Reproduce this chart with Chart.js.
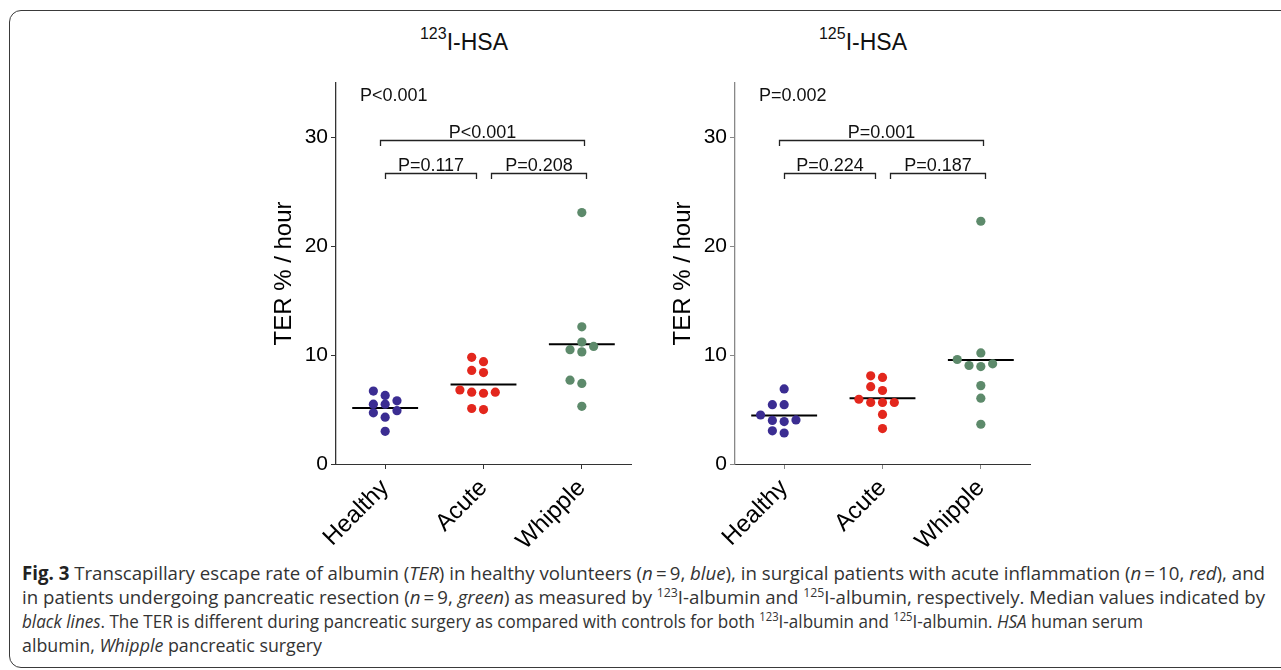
<!DOCTYPE html>
<html>
<head>
<meta charset="utf-8">
<script src="https://cdn.jsdelivr.net/npm/chart.js@4.4.1/dist/chart.umd.min.js"></script>
<style>
  html, body { margin: 0; padding: 0; background: #fff; }
  body { width: 1281px; height: 670px; position: relative; overflow: hidden; font-family: "Liberation Sans", Arial, sans-serif; }
  #frame { position: absolute; left: 9px; top: 10px; width: 1320px; height: 656px; border: 1.5px solid #3a3a3a; border-radius: 12px; }
  .title { position: absolute; top: 31px; width: 240px; text-align: center; font-size: 23px; line-height: 22px; color: #111; }
  .title .sup { position: relative; top: -11px; font-size: 16px; }
  .box { position: absolute; top: 0; width: 400px; height: 560px; }
  .cap { position: absolute; left: 22px; white-space: nowrap; font-family: "Open Sans", sans-serif; font-size: 19px; line-height: 24px; color: #333; transform-origin: 0 0; }
  .cap b { color: #222; }
  .cap sup { font-size: 12.5px; vertical-align: 0; position: relative; top: -7px; }
</style>
</head>
<body>
<div id="frame"></div>

<div class="title" style="left:344px"><span class="sup">123</span>I-HSA</div>
<div class="title" style="left:743px"><span class="sup">125</span>I-HSA</div>

<div class="box" style="left:250px"><canvas id="c123" width="400" height="560"></canvas></div>
<div class="box" style="left:649px"><canvas id="c125" width="400" height="560"></canvas></div>

<div class="cap" style="top:561px" data-w="1243"><b>Fig. 3</b> Transcapillary escape rate of albumin (<i>TER</i>) in healthy volunteers (<i>n</i>&thinsp;=&thinsp;9, <i>blue</i>), in surgical patients with acute inflammation (<i>n</i>&thinsp;=&thinsp;10, <i>red</i>), and</div>
<div class="cap" style="top:585px" data-w="1243">in patients undergoing pancreatic resection (<i>n</i>&thinsp;=&thinsp;9, <i>green</i>) as measured by <sup>123</sup>I-albumin and <sup>125</sup>I-albumin, respectively. Median values indicated by</div>
<div class="cap" style="top:609px" data-w="1121"><i>black lines</i>. The TER is different during pancreatic surgery as compared with controls for both <sup>123</sup>I-albumin and <sup>125</sup>I-albumin. <i>HSA</i> human serum</div>
<div class="cap" style="top:633px" data-w="300">albumin, <i>Whipple</i> pancreatic surgery</div>

<script>
// categories and axis
const categories = ['Healthy', 'Acute', 'Whipple'];
const yTicks = [0, 10, 20, 30];

// 123I-HSA
const healthy123 = [6.7, 6.3, 5.8, 5.5, 5.5, 4.9, 4.7, 4.3, 3.0];
const acute123 = [9.8, 9.4, 8.6, 8.4, 6.8, 6.6, 6.6, 6.5, 5.1, 5.0];
const whipple123 = [23.1, 12.6, 11.2, 10.8, 10.5, 10.3, 7.7, 7.4, 5.3];
const medians123 = [5.15, 7.3, 11.0];
const overallP123 = 'P<0.001';
const pairP123 = ['P=0.117', 'P=0.208', 'P<0.001'];

// 125I-HSA
const healthy125 = [6.9, 5.45, 5.45, 4.5, 4.05, 4.0, 3.9, 3.05, 2.85];
const acute125 = [8.1, 7.95, 7.1, 6.75, 5.95, 5.65, 5.65, 5.65, 4.55, 3.25];
const whipple125 = [22.3, 10.2, 9.6, 9.2, 9.05, 8.95, 7.2, 6.05, 3.65];
const medians125 = [4.45, 6.05, 9.55];
const overallP125 = 'P=0.002';
const pairP125 = ['P=0.224', 'P=0.187', 'P=0.001'];

// compared groups, same order as the P lists
const pairs = [[0, 1], [1, 2], [0, 2]];

const colors = ['#3b2d92', '#e3271d', '#5d8a6b'];

// spread points that sit too close in y (dot plot style)
function swarm(values) {
    const order = values.map((v, i) => i).sort((a, b) => values[a] - values[b]);
    const placed = [];
    const slots = new Array(values.length);
    const tries = [0, -1, 1, -2, 2, -3, 3];
    order.forEach(i => {
        for (const s of tries) {
            const hit = placed.some(p => p.s === s && Math.abs(p.v - values[i]) < 0.75);
            if (!hit) {
                slots[i] = s;
                placed.push({ s: s, v: values[i] });
                break;
            }
        }
    });
    return slots;
}

const bracketPlugin = {
    id: 'brackets',
    afterDatasetsDraw(chart, args, opts) {
        const { ctx, chartArea } = chart;
        const x = chart.scales.x, y = chart.scales.y;
        ctx.save();
        ctx.font = '18px "Liberation Sans", Arial, sans-serif';
        ctx.fillStyle = '#111';
        ctx.strokeStyle = '#222';
        ctx.lineWidth = 1.3;
        ctx.textAlign = 'left';
        ctx.textBaseline = 'alphabetic';
        ctx.fillText(opts.overall, chartArea.left + 24, chartArea.top + 18);

        ctx.textAlign = 'center';
        pairs.forEach((pr, k) => {
            const wide = pr[1] - pr[0] > 1;
            const a = pr[0] === 0 ? (wide ? -0.05 : 0) : pr[0] + 0.08;
            const b = pr[1] === 2 ? (wide ? 2.02 : 2.04) : pr[1] - 0.08;
            const x1 = Math.round(x.getPixelForValue(a)) + 0.5;
            const x2 = Math.round(x.getPixelForValue(b)) + 0.5;
            const yy = Math.round(y.getPixelForValue(wide ? 29.8 : 26.7)) + 0.5;
            ctx.beginPath();
            ctx.moveTo(x1, yy + 5.5);
            ctx.lineTo(x1, yy);
            ctx.lineTo(x2, yy);
            ctx.lineTo(x2, yy + 5.5);
            ctx.stroke();
            ctx.fillText(opts.labels[k], (x1 + x2) / 2, yy - 3);
        });
        ctx.restore();
    }
};

function makeChart(id, groups, medians, overall, pLabels, axisColor) {
    const datasets = [];
    groups.forEach((vals, g) => {
        const slots = swarm(vals);
        datasets.push({
            type: 'scatter',
            data: vals.map((v, i) => ({ x: g + slots[i] * 0.12, y: v })),
            backgroundColor: colors[g],
            borderWidth: 0,
            pointRadius: 4.6
        });
    });
    medians.forEach((m, g) => {
        datasets.push({
            type: 'line',
            data: [{ x: g - 0.335, y: m }, { x: g + 0.335, y: m }],
            borderColor: '#000',
            borderWidth: 2,
            pointRadius: 0
        });
    });

    return new Chart(document.getElementById(id).getContext('2d'), {
        type: 'scatter',
        data: { datasets: datasets },
        plugins: [bracketPlugin],
        options: {
            responsive: false,
            animation: false,
            layout: { padding: { left: 0, right: 19, top: 83, bottom: 0 } },
            plugins: {
                legend: { display: false },
                tooltip: { enabled: false },
                brackets: { overall: overall, labels: pLabels }
            },
            scales: {
                x: {
                    type: 'linear',
                    min: -0.5,
                    max: 2.5,
                    afterBuildTicks: s => { s.ticks = [0, 1, 2].map(v => ({ value: v })); },
                    afterFit: s => { s.height = 96; s.paddingLeft = 0; s.paddingRight = 0; },
                    ticks: {
                        callback: v => categories[v],
                        autoSkip: false,
                        minRotation: 45,
                        maxRotation: 45,
                        padding: 5,
                        color: '#000',
                        font: { family: '"Liberation Sans", Arial, sans-serif', size: 24 }
                    },
                    grid: { drawOnChartArea: false, tickLength: 5, color: axisColor },
                    border: { color: '#333', dash: [2, 1], width: 1 }
                },
                y: {
                    min: 0,
                    max: 35,
                    afterBuildTicks: s => { s.ticks = yTicks.map(v => ({ value: v })); },
                    afterFit: s => { s.width = 86; s.paddingTop = 0; s.paddingBottom = 0; },
                    ticks: {
                        padding: 3,
                        color: '#000',
                        font: { family: '"Liberation Sans", Arial, sans-serif', size: 21 }
                    },
                    grid: { drawOnChartArea: false, tickLength: 5, color: axisColor },
                    border: { color: axisColor, width: 1.3 },
                    title: {
                        display: true,
                        text: 'TER % / hour',
                        color: '#000',
                        padding: { top: 20, bottom: 0 },
                        font: { family: '"Liberation Sans", Arial, sans-serif', size: 24 }
                    }
                }
            }
        }
    });
}

makeChart('c123', [healthy123, acute123, whipple123], medians123, overallP123, pairP123, '#333');
makeChart('c125', [healthy125, acute125, whipple125], medians125, overallP125, pairP125, '#888');

// squeeze each caption line to the width it has in the figure
function fitCaption() {
    document.querySelectorAll('.cap').forEach(el => {
        el.style.transform = 'none';
        const w = el.getBoundingClientRect().width;
        el.style.transform = 'scaleX(' + (parseFloat(el.dataset.w) / w) + ')';
    });
}
fitCaption();
if (document.fonts) document.fonts.ready.then(fitCaption);
</script>
</body>
</html>
